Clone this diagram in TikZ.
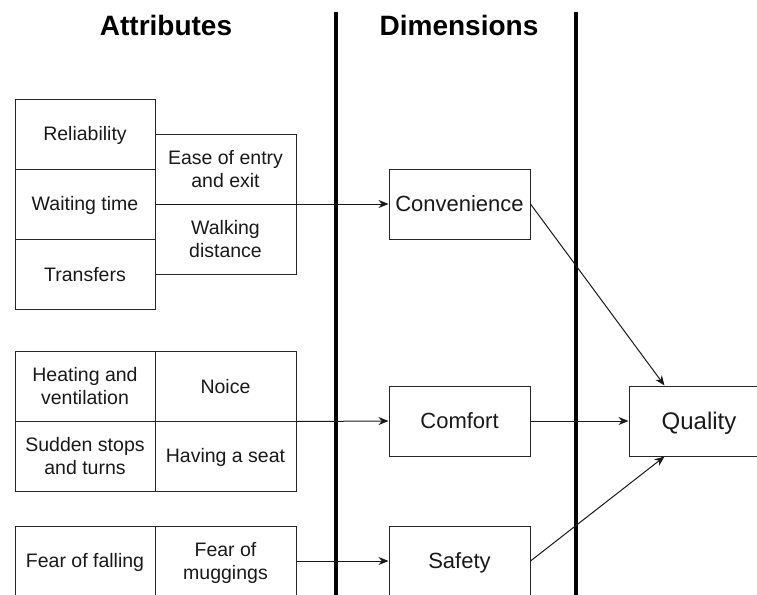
\documentclass[tikz,border=0pt]{standalone}
\usepackage{fontspec}
\setmainfont{Liberation Sans}
\usetikzlibrary{arrows.meta}
% invisible rule giving first and last text lines a fixed height and depth
\newcommand\ls{\rule[-0.2em]{0pt}{1.12em}}
\begin{document}
\begin{tikzpicture}[x=1pt,y=-1pt,
  cell/.style={draw=black!85, line width=1pt, minimum width=140pt, minimum height=70pt,
    inner sep=0pt, align=center, text=black!90,
    font=\fontsize{19.5}{23}\selectfont},
  widecell/.style={cell, minimum width=141pt},
  dimbox/.style={cell, minimum width=141pt, font=\fontsize{22}{26}\selectfont},
  qualbox/.style={cell, minimum width=140pt, font=\fontsize{24}{28}\selectfont},
  link/.style={line width=1pt, draw=black!90, -{Stealth[length=10pt,width=8pt]}},
  divider/.style={line width=4pt, draw=black},
  heading/.style={font=\fontsize{28}{32}\selectfont\bfseries, text=black}
]
\useasboundingbox (0,0) rectangle (757,594);

% column headings and separators
\node[heading] (hattr) at (166,25) {Attributes};
\node[heading] (hdim) at (459,25) {Dimensions};
\draw[divider] (336,12) -- (336,600);
\draw[divider] (576,12) -- (576,600);

% convenience attributes
\node[cell] (rel) at (85,134) {\ls Reliability\ls};
\node[cell] (wait) at (85,204) {\ls Waiting time\ls};
\node[cell] (trans) at (85,274) {\ls Transfers\ls};
\node[widecell] (ease) at (225.5,169) {\ls Ease of entry\\and exit\ls};
\node[widecell] (walk) at (225.5,239) {\ls Walking\\distance\ls};

% comfort attributes
\node[cell] (heat) at (85,386) {\ls Heating and\\ventilation\ls};
\node[cell] (sudden) at (85,456) {\ls Sudden stops\\and turns\ls};
\node[widecell] (noice) at (225.5,386) {\ls Noice\ls};
\node[widecell] (seat) at (225.5,456) {\ls Having a seat\ls};

% safety attributes
\node[cell] (falling) at (85,561) {\ls Fear of falling\ls};
\node[widecell] (muggings) at (225.5,561) {\ls Fear of\\muggings\ls};

% dimensions
\node[dimbox] (conv) at (459.5,204) {\ls Convenience\ls};
\node[dimbox] (comf) at (459.5,421) {\ls Comfort\ls};
\node[dimbox] (safe) at (459.5,561) {\ls Safety\ls};

% overall quality
\node[qualbox] (qual) at (699,421) {\ls Quality\ls};

% attributes to dimensions
\draw[link] (wait.east) -- (conv.west);
\draw[link] (noice.south east) -- (comf.west);
\draw[link] (muggings.east) -- (safe.west);

% dimensions to quality
\draw[link] (conv.east) -- ([xshift=36pt]qual.north west);
\draw[link] (comf.east) -- (qual.west);
\draw[link] (safe.east) -- ([xshift=36pt]qual.south west);
\end{tikzpicture}
\end{document}
